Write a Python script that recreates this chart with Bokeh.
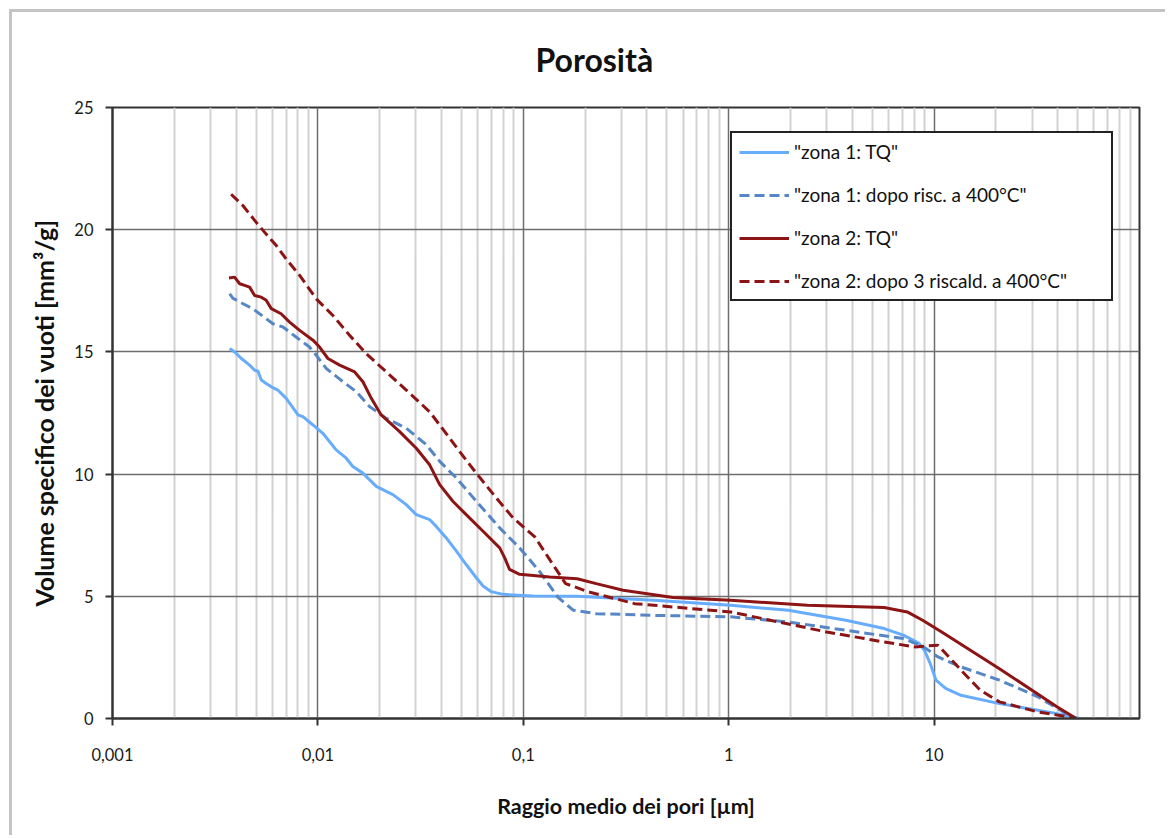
from bokeh.plotting import figure
from bokeh.models import FixedTicker, Legend, LegendItem, Range1d
from bokeh.embed import file_html
from bokeh.resources import INLINE

FONT = "Lato"

# ---------------- data ----------------
# raggio medio dei pori [µm]  /  volume specifico dei vuoti [mm³/g]
z1_tq_r = [0.00372, 0.00393, 0.00424, 0.00465, 0.00492, 0.00511, 0.00530, 0.00560,
           0.00593, 0.00638, 0.00701, 0.00800, 0.00845, 0.00946, 0.01057, 0.01227,
           0.01374, 0.01479, 0.01656, 0.01923, 0.02153, 0.02317, 0.02692, 0.03013,
           0.03499, 0.03767, 0.04217, 0.04721, 0.05272, 0.05902, 0.06368, 0.06982,
           0.07962, 0.1114, 0.1828, 0.4325, 1.021, 1.950, 3.715, 5.715, 7.079, 8.414,
           8.974, 9.572, 10.21, 11.38, 13.52, 20.80, 31.99, 39.63, 51.29]
z1_tq_v = [15.14, 15.00, 14.73, 14.46, 14.25, 14.21, 13.85, 13.71, 13.57, 13.44, 13.10,
           12.42, 12.35, 12.01, 11.67, 10.99, 10.65, 10.31, 10.04, 9.50, 9.29, 9.16,
           8.75, 8.34, 8.14, 7.86, 7.39, 6.85, 6.30, 5.76, 5.42, 5.19, 5.08, 5.01, 5.00,
           4.84, 4.63, 4.43, 4.02, 3.68, 3.41, 3.09, 2.79, 2.25, 1.57, 1.23, 0.95, 0.61,
           0.34, 0.20, 0.00]

z1_risc_r = [0.00372, 0.00385, 0.00432, 0.00482, 0.00560, 0.00604, 0.00676, 0.00783,
             0.00910, 0.00982, 0.01099, 0.01324, 0.01538, 0.01786, 0.02153, 0.02692,
             0.03373, 0.03917, 0.04721, 0.05902, 0.07674, 0.09594, 0.1189, 0.1294,
             0.1472, 0.1750, 0.2265, 0.4325, 1.021, 1.950, 3.715, 7.079, 8.79, 10.45,
             13.52, 20.80, 31.99, 45.08, 48.5]
z1_risc_v = [17.38, 17.20, 16.97, 16.77, 16.36, 16.15, 16.02, 15.61, 15.20, 14.86, 14.32,
             13.78, 13.37, 12.76, 12.28, 11.88, 11.20, 10.52, 9.84, 8.89, 7.80, 6.98,
             6.06, 5.63, 4.97, 4.43, 4.29, 4.22, 4.16, 3.95, 3.61, 3.27, 2.96, 2.52,
             2.11, 1.57, 0.89, 0.14, 0.00]

z2_tq_r = [0.00369, 0.00393, 0.00416, 0.00440, 0.00465, 0.00492, 0.00530, 0.00560,
           0.00593, 0.00662, 0.00728, 0.00815, 0.00946, 0.01019, 0.01119, 0.01276,
           0.01510, 0.01656, 0.01820, 0.02032, 0.02500, 0.03013, 0.03499, 0.03917,
           0.04539, 0.05272, 0.06368, 0.07674, 0.08110, 0.08570, 0.09594, 0.1343,
           0.1828, 0.2265, 0.3062, 0.5358, 1.021, 2.415, 5.715, 7.396, 8.79, 10.89,
           20.80, 39.63, 49.20]
z2_tq_v = [18.02, 18.06, 17.79, 17.72, 17.65, 17.31, 17.24, 17.11, 16.77, 16.56, 16.22,
           15.88, 15.48, 15.20, 14.73, 14.46, 14.18, 13.78, 13.10, 12.42, 11.74, 11.06,
           10.38, 9.57, 8.89, 8.34, 7.66, 6.98, 6.58, 6.10, 5.90, 5.79, 5.72, 5.52,
           5.25, 4.95, 4.84, 4.63, 4.54, 4.36, 4.02, 3.54, 2.04, 0.48, 0.00]

z2_risc_r = [0.00378, 0.00432, 0.00501, 0.00560, 0.00627, 0.00701, 0.00815, 0.00982,
             0.01183, 0.01426, 0.01718, 0.02153, 0.02692, 0.03499, 0.03917, 0.04898,
             0.05902, 0.07396, 0.08913, 0.1138, 0.1352, 0.1607, 0.2080, 0.3483, 1.021,
             3.000, 5.715, 8.072, 10.45, 13.52, 16.75, 20.80, 31.99, 47.10]
z2_risc_v = [21.45, 20.98, 20.30, 19.82, 19.35, 18.80, 18.13, 17.17, 16.49, 15.68, 14.93,
             14.18, 13.44, 12.55, 12.01, 10.92, 10.04, 9.02, 8.21, 7.43, 6.47, 5.52,
             5.18, 4.70, 4.36, 3.54, 3.13, 2.93, 3.00, 1.98, 1.16, 0.68, 0.27, 0.04]

series_labels = ['"zona 1: TQ"', '"zona 1: dopo risc. a 400°C"',
                 '"zona 2: TQ"', '"zona 2: dopo 3 riscald. a 400°C"']

x_ticks = [0.001, 0.01, 0.1, 1, 10]
x_tick_labels = ["0,001", "0,01", "0,1", "1", "10"]
x_minor_ticks = [m * 10.0 ** e for e in range(-3, 2) for m in range(2, 10)]
y_ticks = [0, 5, 10, 15, 20, 25]

title_text = "Porosità"
x_label = "Raggio medio dei pori [µm]"
y_label = "Volume specifico dei vuoti [mm³/g]"

# ---------------- figure ----------------
p = figure(width=1156, height=826, x_axis_type="log",
           x_range=Range1d(0.001, 100), y_range=Range1d(0, 25),
           output_backend="svg", toolbar_location=None,
           min_border_left=100, min_border_right=29,
           min_border_top=93, min_border_bottom=120)
p.styles = {"margin-left": "9px", "margin-top": "9px",
            "border-left": "3px solid #c4c4c4", "border-top": "3px solid #c4c4c4"}
p.background_fill_color = "white"
p.border_fill_color = "white"
p.outline_line_color = "#333333"
p.outline_line_width = 2

p.title.text = title_text
p.title.align = "left"
p.title.vertical_align = "top"
p.title.text_font = FONT
p.title.text_font_size = "32px"
p.title.text_font_style = "bold"
p.title.text_color = "#111111"
p.title.offset = 423
p.title.standoff = 54

xt = FixedTicker(ticks=x_ticks, minor_ticks=x_minor_ticks)
p.xaxis.ticker = xt
p.xaxis.major_label_overrides = {t: l for t, l in zip(x_ticks, x_tick_labels)}
p.yaxis.ticker = FixedTicker(ticks=y_ticks)

for ax in (p.xaxis, p.yaxis):
    ax.axis_line_color = "#333333"
    ax.axis_line_width = 2
    ax.major_tick_line_color = "#333333"
    ax.major_tick_line_width = 2
    ax.major_tick_in = 0
    ax.major_tick_out = 7
    ax.minor_tick_line_color = None
    ax.major_label_text_font = FONT
    ax.major_label_text_font_size = "16.5px"
    ax.major_label_text_color = "#1a1a1a"
    ax.axis_label_text_font = FONT
    ax.axis_label_text_font_style = "bold"
    ax.axis_label_text_color = "#111111"

p.xaxis.axis_label = x_label
p.yaxis.axis_label = y_label
p.xaxis.axis_label_text_font_size = "21.5px"
p.yaxis.axis_label_text_font_size = "25px"
p.xaxis.major_label_standoff = 22
p.xaxis.axis_label_standoff = 29
p.yaxis.major_label_standoff = 12
p.yaxis.axis_label_standoff = 12

p.xgrid.ticker = xt
p.xgrid.grid_line_color = "#6e6e6e"
p.xgrid.grid_line_width = 1.5
p.xgrid.minor_grid_line_color = "#d2d2d2"
p.xgrid.minor_grid_line_width = 2
p.ygrid.grid_line_color = "#6e6e6e"
p.ygrid.grid_line_width = 1.5

col_light = "#68acfc"
col_blue = "#5686c4"
col_red = "#8c1414"

r1 = p.line(z1_tq_r, z1_tq_v, line_color=col_light, line_width=3)
r2 = p.line(z1_risc_r, z1_risc_v, line_color=col_blue, line_width=3, line_dash="10 5")
r3 = p.line(z2_tq_r, z2_tq_v, line_color=col_red, line_width=3)
r4 = p.line(z2_risc_r, z2_risc_v, line_color=col_red, line_width=3, line_dash="10 5")

legend = Legend(items=[LegendItem(label=lab, renderers=[r])
                       for lab, r in zip(series_labels, [r1, r2, r3, r4])],
                location=(618, 417))
legend.border_line_color = "#222222"
legend.border_line_width = 2
legend.border_line_alpha = 1
legend.padding = 7
legend.spacing = 20
legend.label_height = 20
legend.glyph_height = 20
legend.glyph_width = 50
legend.label_standoff = 5
legend.label_width = 310
legend.label_text_font = FONT
legend.label_text_font_size = "19px"
legend.label_text_color = "#111111"
legend.background_fill_color = "white"
legend.background_fill_alpha = 1
p.add_layout(legend)

open("out.html", "w").write(file_html(p, INLINE))
